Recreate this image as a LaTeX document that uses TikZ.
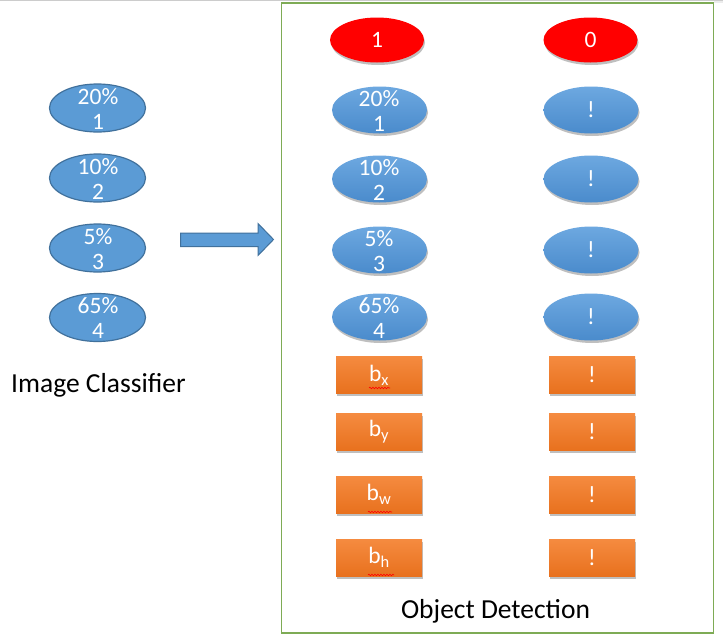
\documentclass[tikz,border=0pt]{standalone}
\usepackage{fontspec}
\setmainfont{Carlito}
\usetikzlibrary{shapes.geometric,decorations.pathmorphing}
\definecolor{offblue}{HTML}{5B9BD5}
\definecolor{offbluedark}{HTML}{41719C}
\definecolor{bluetop}{HTML}{6DA8E0}
\definecolor{bluebot}{HTML}{4A8BCC}
\definecolor{orgtop}{HTML}{F58B40}
\definecolor{orgbot}{HTML}{E8711E}
\definecolor{boxgreen}{HTML}{7EAB55}
\tikzset{
  x=1pt, y=-1pt,
  shad/.style={preaction={fill=black, opacity=0.25,
    transform canvas={xshift=1pt, yshift=-2.5pt}}},
  lell/.style={ellipse, fill=offblue, draw=offbluedark, line width=1.2pt,
    minimum width=96pt, minimum height=48pt, inner sep=0pt},
  rell/.style={ellipse, top color=bluetop, bottom color=bluebot, draw=none,
    minimum width=95pt, minimum height=47pt, inner sep=0pt, shad},
  redell/.style={ellipse, fill=red, draw=none,
    minimum width=94pt, minimum height=45pt, inner sep=0pt, shad},
  orect/.style={rectangle, top color=orgtop, bottom color=orgbot, draw=none,
    minimum width=86pt, minimum height=37pt, inner sep=0pt, shad},
  wtxt/.style={text=white, font=\fontsize{23.5}{25}\selectfont, align=center, inner sep=0pt},
  captxt/.style={text=black, font=\fontsize{27.5}{32}\selectfont, inner sep=0pt},
  blockarrow/.style={fill=offblue, draw=offbluedark, line width=1pt},
  squig/.style={draw=red, line width=0.6pt, decorate,
    decoration={snake, amplitude=0.8pt, segment length=3pt}},
}
\begin{document}
\begin{tikzpicture}
\useasboundingbox (0,0) rectangle (723,643);
\fill[white] (0,0) rectangle (723,643);
% top gray line
\draw[gray!40, line width=1pt] (0,0.5) -- (723,0.5);
\fill[gray!15] (714,1) rectangle (723,3);
% green frame
\draw[boxgreen, line width=1.3pt] (281.5,3) rectangle (713.5,633);

% left column: image classifier
\node[lell] (l1) at (97.5,108) {};
\node[lell] (l2) at (97.5,178) {};
\node[lell] (l3) at (97.5,248) {};
\node[lell] (l4) at (97.5,317.5) {};
\node[wtxt] (l1t) at (98,109) {20\%\\1};
\node[wtxt] (l2t) at (98,179) {10\%\\2};
\node[wtxt] (l3t) at (98,249) {5\%\\3};
\node[wtxt] (l4t) at (98,318) {65\%\\4};
\node[captxt, anchor=base west] (ic) at (11,392) {Image Classifier};

% block arrow
\draw[blockarrow] (180.5,233) -- (258,233) -- (258,223.5) -- (273.5,239.5)
  -- (258,255.5) -- (258,246.5) -- (180.5,246.5) -- cycle;

% right: object detection
\node[redell] (r1) at (377,40) {};
\node[wtxt] (r1t) at (r1) {1};
\node[redell] (r0) at (590.5,40) {};
\node[wtxt] (r0t) at (r0) {0};

\node[rell] (a1) at (379.5,110) {};
\node[rell] (a2) at (379.5,179) {};
\node[rell] (a3) at (379.5,250) {};
\node[rell] (a4) at (379.5,317) {};
\node[wtxt] (a1t) at (379,111) {20\%\\1};
\node[wtxt] (a2t) at (379,180) {10\%\\2};
\node[wtxt] (a3t) at (379,251) {5\%\\3};
\node[wtxt] (a4t) at (379,318) {65\%\\4};

\node[rell] (c1) at (591,110) {};
\node[rell] (c2) at (591,179) {};
\node[rell] (c3) at (591,250) {};
\node[rell] (c4) at (591,317) {};
\node[wtxt] (c1t) at (c1) {!};
\node[wtxt] (c2t) at (c2) {!};
\node[wtxt] (c3t) at (c3) {!};
\node[wtxt] (c4t) at (c4) {!};

\node[orect] (bx) at (379,374.5) {};
\node[orect] (by) at (379,432) {};
\node[orect] (bw) at (379,494.5) {};
\node[orect] (bh) at (379,557.5) {};
\node[wtxt] (bxt) at (379,375) {b\textsubscript{x}};
\node[wtxt] (byt) at (379,432) {b\textsubscript{y}};
\node[wtxt] (bwt) at (379,494.5) {b\textsubscript{w}};
\node[wtxt] (bht) at (379,557.5) {b\textsubscript{h}};
\draw[squig] (369,388) -- (390,388);
\draw[squig] (368,512) -- (392,512);
\draw[squig] (368,575) -- (394,575);

\node[orect] (ex) at (592,374.5) {};
\node[orect] (ey) at (592,432) {};
\node[orect] (ew) at (592,494.5) {};
\node[orect] (eh) at (592,557.5) {};
\node[wtxt] (ext) at (ex) {!};
\node[wtxt] (eyt) at (ey) {!};
\node[wtxt] (ewt) at (ew) {!};
\node[wtxt] (eht) at (eh) {!};

\node[captxt, anchor=base] (od) at (495.5,618) {Object Detection};
\end{tikzpicture}
\end{document}
